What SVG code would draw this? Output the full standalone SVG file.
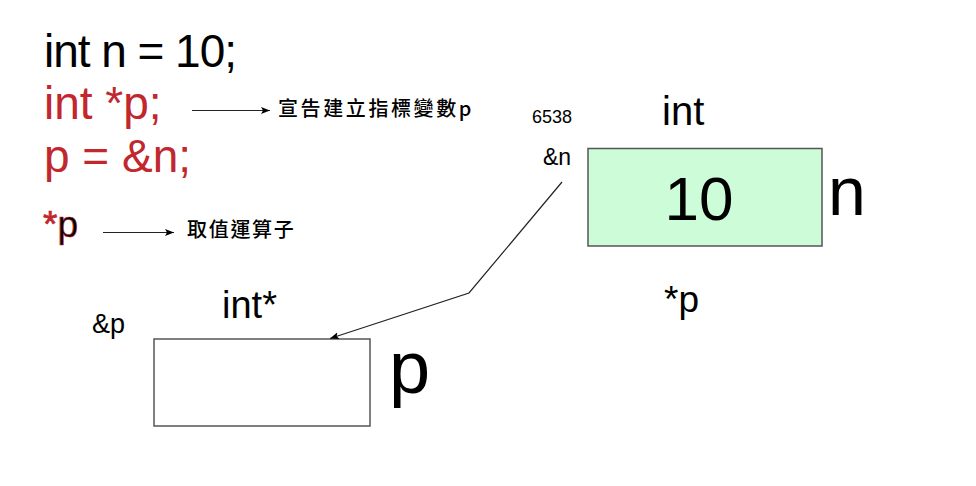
<svg xmlns="http://www.w3.org/2000/svg" width="976" height="486" viewBox="0 0 976 486">
<defs>
<style>
.t{font-family:"Liberation Sans","DejaVu Sans",sans-serif;fill:#000}
.red{fill:#c1272d}
.cjk{font-family:"Noto Sans CJK TC","Noto Sans CJK SC",sans-serif;fill:#000;font-size:20px;font-weight:500}
.box{stroke:#555;stroke-width:1.5}
.ln{fill:none;stroke:#222;stroke-width:1.2}
</style>
<marker id="ah" markerUnits="userSpaceOnUse" markerWidth="10" markerHeight="8" refX="9" refY="3.5" orient="auto">
<path d="M0,0 L9,3.5 L0,7 L2,3.5 z" fill="#000"/>
</marker>
</defs>
<rect width="976" height="486" fill="#fff"/>

<g id="code">
<text class="t" x="44" y="67" font-size="46" textLength="193">int n = 10;</text>
<text class="t red" x="44" y="119" font-size="46">int *p;</text>
<text class="t red" x="44" y="172" font-size="46">p = &amp;n;</text>
<text class="t" x="43" y="237" font-size="37" stroke="#c1272d" stroke-width="0.7"><tspan class="red">*</tspan>p</text>
</g>

<g id="note1">
<text class="cjk" x="278" y="116" letter-spacing="2.6">宣告建立指標變數p</text>
</g>
<g id="note2">
<text class="cjk" x="187" y="237" letter-spacing="1.7">取值運算子</text>
</g>

<g id="node-n">
<rect class="box" x="588" y="148.5" width="234" height="97.5" fill="#ccfdd8"/>
<text class="t" x="699" y="220" font-size="62" text-anchor="middle">10</text>
<text class="t" x="662" y="125" font-size="40">int</text>
<text class="t" x="828" y="215" font-size="68">n</text>
<text class="t" x="532" y="123" font-size="18">6538</text>
<text class="t" x="543" y="165" font-size="23">&amp;n</text>
<text class="t" x="664" y="312" font-size="37">*p</text>
</g>

<g id="node-p">
<rect class="box" x="154" y="339" width="216" height="87" fill="#fff"/>
<text class="t" x="222" y="318" font-size="38">int*</text>
<text class="t" x="92" y="333" font-size="27">&amp;p</text>
<text class="t" x="389" y="393" font-size="74">p</text>
</g>

<g id="connectors">
<line class="ln" x1="192" y1="110.5" x2="270" y2="110.5" marker-end="url(#ah)"/>
<line class="ln" x1="103" y1="232.5" x2="174" y2="232.5" marker-end="url(#ah)"/>
<polyline class="ln" points="562,182 469,293 330,338.5" marker-end="url(#ah)"/>
</g>
</svg>
